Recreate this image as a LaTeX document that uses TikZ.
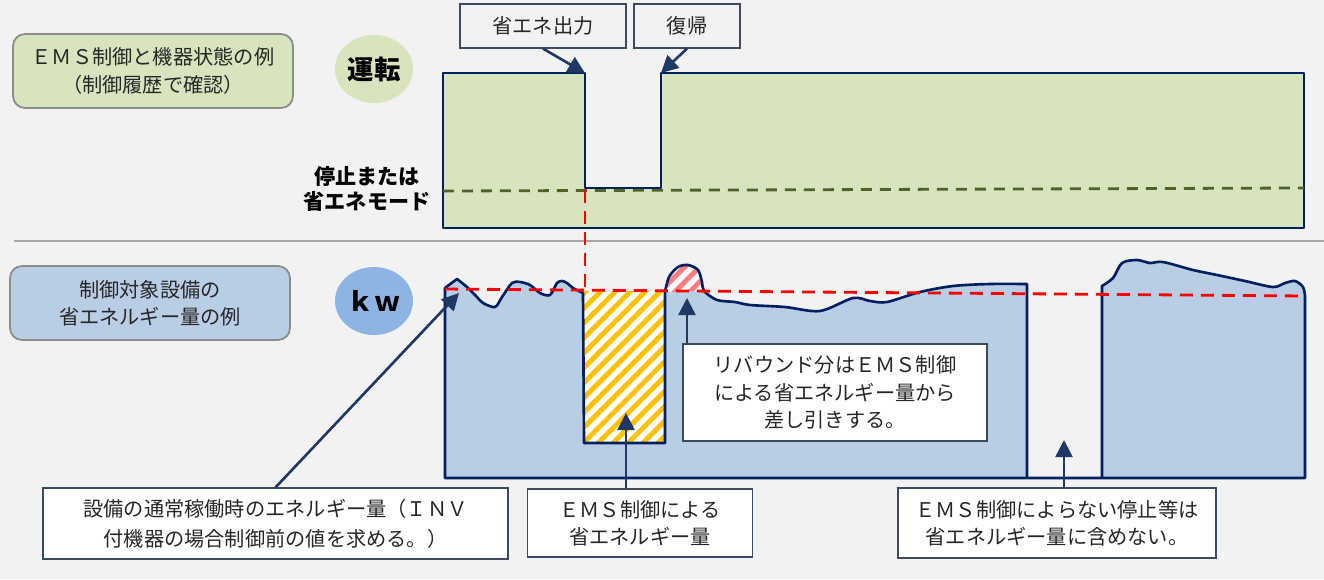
\documentclass[tikz,border=0pt]{standalone}
\usepackage{fontspec}
\setmainfont{Noto Sans CJK JP}
\usetikzlibrary{shapes.geometric,arrows.meta,patterns.meta,calc}
\definecolor{bgc}{HTML}{F2F2F2}
\definecolor{runc}{HTML}{D7E4BD}
\definecolor{kwc}{HTML}{B9CDE5}
\definecolor{kwdark}{HTML}{8EB4E3}
\definecolor{navy}{HTML}{002060}
\definecolor{arrowc}{HTML}{1F3864}
\definecolor{olive}{HTML}{4F6228}
\definecolor{hatchc}{HTML}{FFC000}
\definecolor{pinkc}{HTML}{FF7C80}
\definecolor{notec}{HTML}{3B4A5E}
\begin{document}
\begin{tikzpicture}[x=0.02cm,y=-0.02cm,
  every node/.style={font=\fontsize{11.5}{15.5}\selectfont, align=center, text=black!85},
  tag/.style={draw=gray!90, line width=1pt, rounded corners=0.24cm, minimum width=5.6cm, minimum height=1.48cm},
  badge/.style={ellipse, minimum width=1.56cm, minimum height=1.36cm, inner sep=0pt, font=\fontsize{15}{18}\selectfont\bfseries, text=black},
  note/.style={draw=notec, line width=0.7pt, fill=white, inner sep=0pt},
  callout/.style={draw=arrowc, line width=1.5pt, -{Triangle[length=0.34cm,width=0.34cm]}},
  rim/.style={draw=navy, line width=1.5pt, line join=round},
  refline/.style={draw=red, line width=1.6pt, dash pattern=on 0.26cm off 0.16cm},
  stripes/.style={pattern={Lines[angle=45,distance=6pt,line width=2.8pt]}, pattern color=#1}]
\fill[bgc] (0,0) rectangle (1324,579);
\useasboundingbox (0,0) rectangle (1324,579);
\draw[gray!70, line width=1.3pt] (14,241) -- (1324,241);

\draw[rim, fill=runc] (443,73) -- (585,73) -- (585,188) -- (661,188) -- (661,73) -- (1304,73) -- (1304,228) -- (443,228) -- cycle;
\draw[olive, line width=1.6pt, dash pattern=on 0.22cm off 0.16cm] (443,191) -- (1304,188);

\node[tag, fill=runc] (title1) at (153,71) {ＥＭＳ制御と機器状態の例\\（制御履歴で確認）};
\node[badge, fill=runc] (run) at (374,69) {運転};
\node[font=\fontsize{12}{14.5}\selectfont\bfseries, text=black] (stop) at (367,189) {停止または\\省エネモード};
\node[note, fill=bgc, minimum width=3.32cm, minimum height=0.88cm] (saveout) at (543,26) {省エネ出力};
\node[note, fill=bgc, minimum width=2.12cm, minimum height=0.88cm] (back) at (687,26) {復帰};
\coordinate (drop) at (585,73);
\coordinate (rise) at (661,73);
\draw[callout] (saveout.south) -- (drop);
\draw[callout] (back.south) -- (rise);

\node[tag, fill=kwc] (title2) at (150,303) {制御対象設備の\\省エネルギー量の例};
\node[badge, fill=kwdark] (kw) at (374,301) {ｋｗ};

\fill[kwc] (445,478) -- (445,288) -- (457,279)
  -- plot[smooth] coordinates {(457,279) (467,287) (477,297) (483,303) (495,307) (502,297) (512,283) (520,282) (530,285) (540,293) (550,295) (557,283) (562,281) (567,283) (573,288) (583,293)}
  -- (584,443) -- (665,443) -- (665,292)
  -- plot[smooth] coordinates {(665,292) (669,277) (678,267) (688,265) (698,270) (702,282) (704,291) (717,300) (735,302) (750,305) (785,307) (820,311) (853,298) (870,301) (887,302) (920,292) (953,286) (990,284) (1027,284)}
  -- (1027,478) -- (1102,478) -- (1102,286)
  -- plot[smooth] coordinates {(1102,286) (1113,278) (1122,263) (1137,260) (1150,263) (1163,262) (1193,270) (1217,275) (1245,281) (1273,287) (1285,283) (1295,281) (1303,287) (1305,296)}
  -- (1305,478) -- cycle;
\fill[white] (584,291) rectangle (665,443);
\fill[stripes=hatchc] (584,291) rectangle (665,443);
\fill[white] (665,292) -- plot[smooth] coordinates {(665,292) (669,277) (678,267) (688,265) (698,270) (702,282) (704,291)} -- cycle;
\fill[stripes=pinkc] (665,292) -- plot[smooth] coordinates {(665,292) (669,277) (678,267) (688,265) (698,270) (702,282) (704,291)} -- cycle;
\draw[rim] (445,478) -- (445,288) -- (457,279)
  -- plot[smooth] coordinates {(457,279) (467,287) (477,297) (483,303) (495,307) (502,297) (512,283) (520,282) (530,285) (540,293) (550,295) (557,283) (562,281) (567,283) (573,288) (583,293)}
  -- (584,443) -- (665,443) -- (665,292)
  -- plot[smooth] coordinates {(665,292) (669,277) (678,267) (688,265) (698,270) (702,282) (704,291) (717,300) (735,302) (750,305) (785,307) (820,311) (853,298) (870,301) (887,302) (920,292) (953,286) (990,284) (1027,284)}
  -- (1027,478) -- (1102,478) -- (1102,286)
  -- plot[smooth] coordinates {(1102,286) (1113,278) (1122,263) (1137,260) (1150,263) (1163,262) (1193,270) (1217,275) (1245,281) (1273,287) (1285,283) (1295,281) (1303,287) (1305,296)}
  -- (1305,478) -- cycle;
\draw[refline] (445,289) -- (1305,296);
\draw[refline] (585,190) -- (585,289);

\node[note, minimum width=9.3cm, minimum height=1.42cm, font=\fontsize{11.5}{17}\selectfont] (usual) at (275.5,523.5) {設備の通常稼働時のエネルギー量（ＩＮＶ\\付機器の場合制御前の値を求める。）};
\node[note, minimum width=4.5cm, minimum height=1.36cm] (emssave) at (640,523) {ＥＭＳ制御による\\省エネルギー量};
\node[note, minimum width=6.08cm, minimum height=1.94cm] (rebound) at (835,392.5) {リバウンド分はＥＭＳ制御\\による省エネルギー量から\\差し引きする。};
\node[note, minimum width=6.36cm, minimum height=1.4cm] (nostop) at (1057,523) {ＥＭＳ制御によらない停止等は\\省エネルギー量に含めない。};
\coordinate (base) at (459,293);
\coordinate (cut) at (626,413);
\coordinate (bump) at (687,298);
\coordinate (gap) at (1064,440);
\draw[callout] (usual.north) -- (base);
\draw[callout] (emssave.north -| cut) -- (cut);
\draw[callout] (rebound.north -| bump) -- (bump);
\draw[callout] (nostop.north -| gap) -- (gap);
\end{tikzpicture}
\end{document}
